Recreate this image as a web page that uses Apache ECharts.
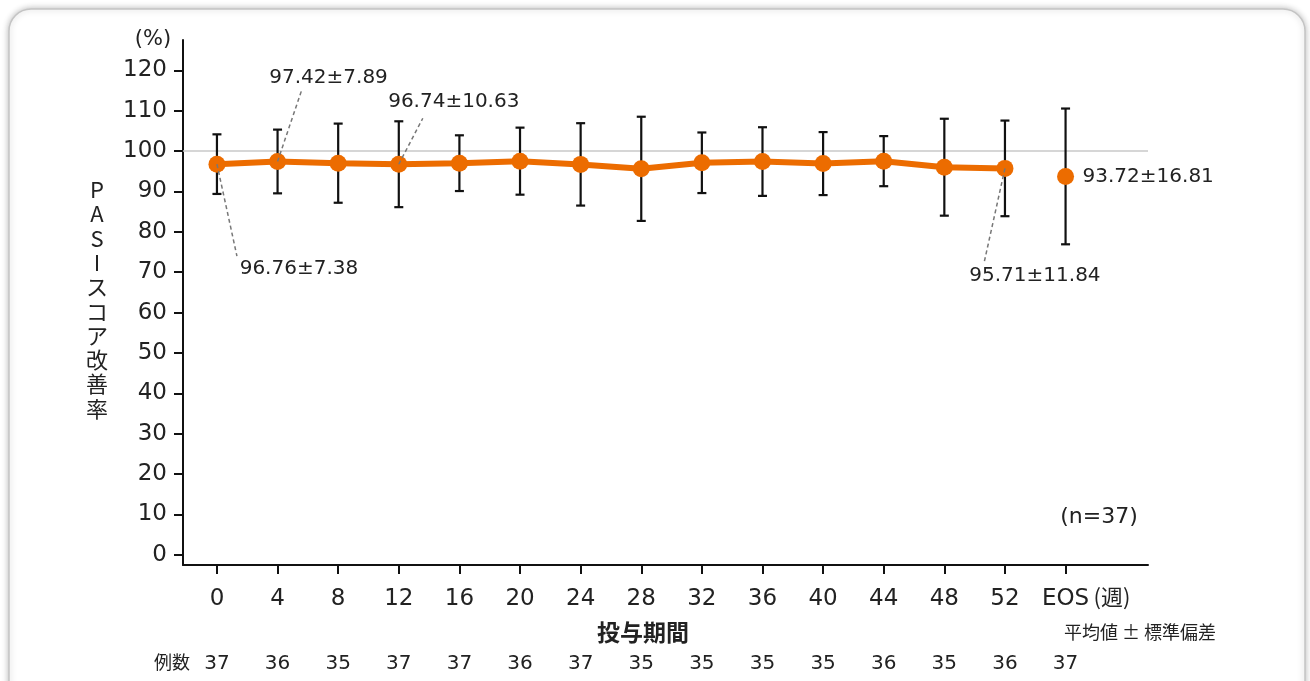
<!DOCTYPE html>
<html><head><meta charset="utf-8">
<script src="https://cdn.jsdelivr.net/npm/echarts@6/dist/echarts.min.js"></script>
<style>html,body{margin:0;padding:0;background:#fff}#c{width:1310px;height:681px}</style>
</head><body><div id="c"></div>
<script>
const weeks = ['0','4','8','12','16','20','24','28','32','36','40','44','48','52','EOS'];
const means = [96.76, 97.42, 97.0, 96.74, 97.0, 97.5, 96.7, 95.6, 97.1, 97.4, 96.9, 97.5, 96.0, 95.71];
const sds   = [7.38, 7.89, 9.8, 10.63, 6.9, 8.3, 10.2, 12.9, 7.5, 8.5, 7.8, 6.2, 12.0, 11.84];
const eosMean = 93.72;
const eosSd = 16.81;
const counts = [37,36,35,37,37,36,37,35,35,35,35,36,35,36,37];
const yTicks = [0,10,20,30,40,50,60,70,80,90,100,110,120];
const annotated = [0, 1, 3, 13, 14];

const JP = '"Noto Sans CJK JP","Noto Sans",sans-serif';
const NUM = '"DejaVu Sans","Noto Sans CJK JP",sans-serif';
const ORANGE = '#EC6C00';
const idx = weeks.map((w,i)=>i);
const allMeans = means.concat([eosMean]);
const allSds = sds.concat([eosSd]);

// label layout (pixel offsets relative to the point)
const annLayout = {
  0:  {line:[20, 92],  text:[82, 105], align:'center'},
  1:  {line:[24, -71], text:[51, -84], align:'center'},
  3:  {line:[24, -46], text:[55, -62], align:'center'},
  13: {line:[-21, 95], text:[30, 107], align:'center'},
  14: {line:null,      text:[17, 0],   align:'left'}
};

const chart = echarts.init(document.getElementById('c'), null, {renderer:'canvas'});
chart.setOption({
  animation:false,
  backgroundColor:'#fff',
  textStyle:{fontFamily:NUM},
  grid:{left:183, right:162, top:40, bottom:116},
  xAxis:[{
    type:'value', min:-0.56, max:15.36,
    splitLine:{show:false},
    axisLine:{show:true, onZero:false, lineStyle:{color:'#111', width:2}},
    axisTick:{show:true, customValues:idx, length:9, lineStyle:{color:'#111', width:2}},
    axisLabel:{customValues:idx, formatter:v=>weeks[Math.round(v)], color:'#222', fontSize:23, margin:23, fontFamily:NUM}
  },{
    type:'value', min:-0.56, max:15.36, position:'bottom',
    splitLine:{show:false}, axisLine:{show:false}, axisTick:{show:false},
    axisLabel:{customValues:idx, formatter:v=>String(counts[Math.round(v)]), color:'#222', fontSize:20, margin:89, fontFamily:NUM}
  }],
  yAxis:{
    type:'value', min:-2.5, max:127.5,
    splitLine:{show:false},
    axisLine:{show:true, onZero:false, lineStyle:{color:'#111', width:2}},
    axisTick:{show:true, customValues:yTicks, length:9, lineStyle:{color:'#111', width:2}},
    axisLabel:{customValues:yTicks, color:'#222', fontSize:23, margin:16, fontFamily:NUM}
  },
  series:[
    {
      type:'custom', z:2,
      data: idx.map(i=>[i, allMeans[i], allSds[i]]),
      renderItem:(params, api)=>{
        const x = api.value(0), m = api.value(1), s = api.value(2);
        const top = api.coord([x, m+s]), bot = api.coord([x, m-s]);
        const c = 4.5;
        const st = {stroke:'#111', lineWidth:2.2};
        return {type:'group', children:[
          {type:'line', shape:{x1:top[0], y1:top[1], x2:bot[0], y2:bot[1]}, style:st},
          {type:'line', shape:{x1:top[0]-c, y1:top[1], x2:top[0]+c, y2:top[1]}, style:st},
          {type:'line', shape:{x1:bot[0]-c, y1:bot[1], x2:bot[0]+c, y2:bot[1]}, style:st}
        ]};
      }
    },
    {
      type:'line', z:3,
      data: means.map((m,i)=>[i, m]),
      lineStyle:{color:ORANGE, width:6},
      itemStyle:{color:ORANGE, opacity:1},
      symbol:'circle', symbolSize:17, showSymbol:true,
      markLine:{silent:true, symbol:'none', label:{show:false}, z:1,
        lineStyle:{color:'#c8c8c8', width:1.5, type:'solid'},
        data:[{yAxis:100}]}
    },
    {
      type:'scatter', z:3,
      data:[[14, eosMean]],
      itemStyle:{color:ORANGE, opacity:1}, symbol:'circle', symbolSize:17
    },
    {
      type:'custom', z:4,
      data: annotated.map(i=>[i, allMeans[i], allSds[i]]),
      renderItem:(params, api)=>{
        const i = Math.round(api.value(0));
        const m = api.value(1), s = api.value(2);
        const p = api.coord([i, m]);
        const L = annLayout[i];
        const ch = [];
        if (L.line) ch.push({type:'line', shape:{x1:p[0], y1:p[1], x2:p[0]+L.line[0], y2:p[1]+L.line[1]},
          style:{stroke:'#777', lineWidth:1.5, lineDash:[4,3]}});
        ch.push({type:'text', x:p[0]+L.text[0], y:p[1]+L.text[1],
          style:{text:m.toFixed(2)+'±'+s.toFixed(2), fill:'#222', font:'20px '+NUM, align:L.align, verticalAlign:'middle'}});
        return {type:'group', children:ch};
      }
    }
  ],
  graphic:[
    {type:'rect', z:-10, shape:{x:9, y:9, width:1296, height:720, r:22},
      style:{fill:'#fff', stroke:'#c4c4c4', lineWidth:1.5, shadowBlur:6, shadowColor:'rgba(0,0,0,0.25)'}},
    {type:'text', x:153, y:40, style:{text:'(%)', font:'21px '+NUM, fill:'#222', align:'center', verticalAlign:'middle'}},
    {type:'text', x:97, y:299, style:{text:'P\nA\nS\nI\nス\nコ\nア\n改\n善\n率', font:'22px '+JP, lineHeight:24.3, fill:'#222', align:'center', verticalAlign:'middle'}},
    {type:'text', x:1112, y:597, style:{text:'(週)', font:'22px '+JP, fill:'#222', align:'center', verticalAlign:'middle'}},
    {type:'text', x:643, y:632, style:{text:'投与期間', font:'bold 23px '+JP, fill:'#222', align:'center', verticalAlign:'middle'}},
    {type:'text', x:1140, y:632, style:{text:'平均値 ± 標準偏差', font:'18px '+JP, fill:'#222', align:'center', verticalAlign:'middle'}},
    {type:'text', x:172, y:662, style:{text:'例数', font:'18px '+JP, fill:'#222', align:'center', verticalAlign:'middle'}},
    {type:'text', x:1099, y:517, style:{text:'(n=37)', font:'22px '+NUM, fill:'#222', align:'center', verticalAlign:'middle'}}
  ]
});
</script></body></html>
